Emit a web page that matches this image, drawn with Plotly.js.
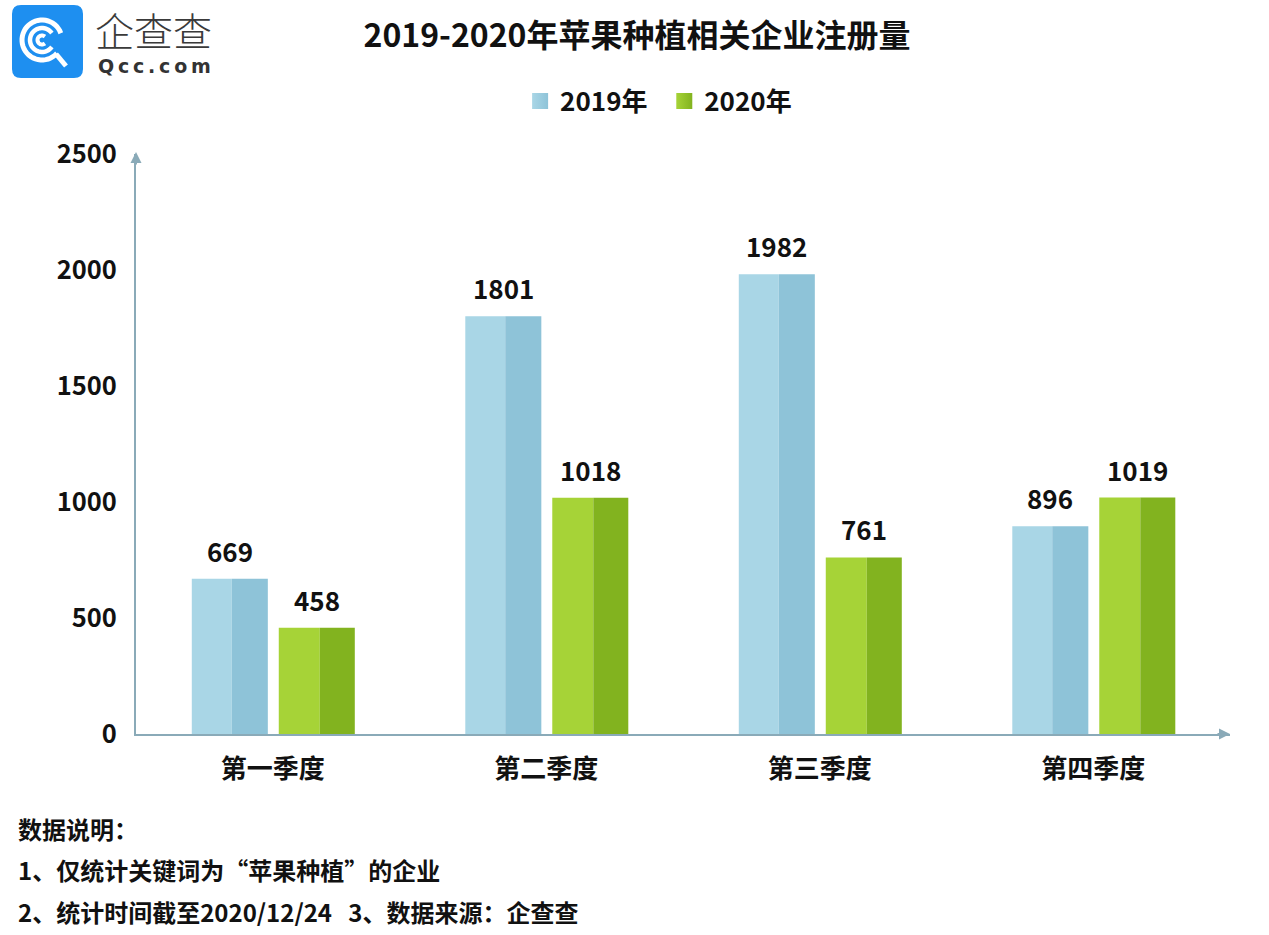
<!DOCTYPE html>
<html>
<head>
<meta charset="utf-8">
<script src="https://cdn.plot.ly/plotly-3.0.1.min.js"></script>
<style>html,body{margin:0;padding:0;background:#fff;}#chart{width:1269px;height:935px;}</style>
</head>
<body>
<div id="chart"></div>
<script>
// ---- data ----
const categories = ['第一季度', '第二季度', '第三季度', '第四季度'];
const values2019 = [669, 1801, 1982, 896];
const values2020 = [458, 1018, 761, 1019];
const seriesNames = ['2019年', '2020年'];
const yTicks = [0, 500, 1000, 1500, 2000, 2500];
const titleText = '2019-2020年苹果种植相关企业注册量';
const noteLines = ['数据说明：', '1、仅统计关键词为“苹果种植”的企业', '2、统计时间截至2020/12/24\u00a0\u00a0\u00a03、数据来源：企查查'];

// ---- style ----
const FONT = '"Noto Sans CJK SC", "Noto Sans", sans-serif';
const W = 1269, H = 935;
const M = {l: 136, r: 39, t: 154, b: 201};
const PW = W - M.l - M.r, PH = H - M.t - M.b;
const col = {l19: '#a9d6e6', d19: '#8ec3d8', l20: '#a6d337', d20: '#82b31f', axis: '#8aaab8'};

// half-bar geometry (category units)
const g19 = {a: -0.296, m: -0.150, b: -0.018};
const g20 = {a: 0.022, m: 0.172, b: 0.300};

function half(name, vals, x0, x1, color) {
  return {
    type: 'bar', x: categories, y: vals, name: name,
    offset: x0, width: x1 - x0,
    marker: {color: color, line: {width: 0}},
    showlegend: false, hoverinfo: 'x+y'
  };
}
function legendItem(name, light, dark) {
  return {
    type: 'scatter', mode: 'markers', x: [null], y: [null], name: name,
    marker: {symbol: 'square', size: 16, color: light, line: {width: 0},
      gradient: {type: 'horizontal', color: dark}},
    showlegend: true, hoverinfo: 'skip'
  };
}
const traces = [
  half(seriesNames[0], values2019, g19.a, g19.m, col.l19),
  half(seriesNames[0], values2019, g19.m, g19.b, col.d19),
  half(seriesNames[1], values2020, g20.a, g20.m, col.l20),
  half(seriesNames[1], values2020, g20.m, g20.b, col.d20),
  legendItem(seriesNames[0] + '\u00a0\u00a0', col.l19, col.d19),
  legendItem(seriesNames[1], col.l20, col.d20)
];

// value labels
const annotations = [];
categories.forEach((c, i) => {
  [[values2019, g19], [values2020, g20]].forEach(([vals, g]) => {
    annotations.push({
      x: i + (g.a + g.b) / 2, y: vals[i], xref: 'x', yref: 'y',
      text: String(vals[i]), showarrow: false, yanchor: 'bottom', yshift: 8,
      font: {family: FONT, size: 26, color: '#111', weight: 700}
    });
  });
});

// pixel -> paper helpers (for decorations outside plot)
const px = X => (X - M.l) / PW;
const py = Y => (H - M.b - Y) / PH;

// footer notes
const noteY = [828, 869, 911];
noteLines.forEach((t, i) => {
  annotations.push({
    x: px(16), y: py(noteY[i]), xref: 'paper', yref: 'paper', xanchor: 'left', yanchor: 'middle',
    text: t, showarrow: false, font: {family: FONT, size: 24, color: '#111', weight: 700}
  });
});

// logo texts
annotations.push({
  x: px(93), y: py(29), xref: 'paper', yref: 'paper', xanchor: 'left', yanchor: 'middle',
  text: '企查查', showarrow: false, font: {family: FONT, size: 39, color: '#3a3a3a', weight: 300}
});
annotations.push({
  x: px(96), y: py(66), xref: 'paper', yref: 'paper', xanchor: 'left', yanchor: 'middle',
  text: 'Q\u2009c\u2009c\u2009.\u2009c\u2009o\u2009m', showarrow: false,
  font: {family: '"DejaVu Sans", sans-serif', size: 19, color: '#333', weight: 700}
});

// axis arrows
annotations.push({
  x: -0.5, y: py(152), xref: 'x', yref: 'paper', ax: 0, ay: 14, axref: 'pixel', ayref: 'pixel',
  text: '', showarrow: true, arrowhead: 2, arrowsize: 1.1, arrowwidth: 2, arrowcolor: col.axis
});
annotations.push({
  x: px(1230), y: 0, xref: 'paper', yref: 'y', ax: -14, ay: 0,
  text: '', showarrow: true, arrowhead: 2, arrowsize: 1.1, arrowwidth: 2, arrowcolor: col.axis
});

// logo shapes in pixel mode anchored at figure top-left
const AX = px(0), AY = py(0);
function pshape(path, fill, line) {
  return {type: 'path', xref: 'paper', yref: 'paper', xsizemode: 'pixel', ysizemode: 'pixel',
    xanchor: AX, yanchor: AY, path: path, fillcolor: fill || 'rgba(0,0,0,0)', layer: 'above',
    line: line || {width: 0}};
}
function P(x, y) { return x.toFixed(2) + ',' + (-y).toFixed(2); }
function roundRect(x0, y0, x1, y1, r) {
  return 'M' + P(x0 + r, y0) + ' L' + P(x1 - r, y0) + ' Q' + P(x1, y0) + ' ' + P(x1, y0 + r) +
    ' L' + P(x1, y1 - r) + ' Q' + P(x1, y1) + ' ' + P(x1 - r, y1) + ' L' + P(x0 + r, y1) +
    ' Q' + P(x0, y1) + ' ' + P(x0, y1 - r) + ' L' + P(x0, y0 + r) + ' Q' + P(x0, y0) + ' ' + P(x0 + r, y0) + ' Z';
}
function arc(cx, cy, r, a0, a1) {
  let s = '';
  const n = 40;
  for (let k = 0; k <= n; k++) {
    const a = (a0 + (a1 - a0) * k / n) * Math.PI / 180;
    s += (k ? ' L' : 'M') + P(cx + r * Math.cos(a), cy - r * Math.sin(a));
  }
  return s;
}
const shapes = [
  pshape(roundRect(12, 5, 83, 78, 9), '#1e8ff0'),
  pshape(arc(42, 40, 20, 20, 318), null, {color: '#fff', width: 5}),
  pshape(arc(42, 40, 12, 35, 325), null, {color: '#fff', width: 4.5}),
  pshape(arc(42, 40, 4.5, 50, 310), null, {color: '#fff', width: 4}),
  pshape('M' + P(56, 54) + ' L' + P(66, 66), null, {color: '#fff', width: 5})
];

const layout = {
  width: W, height: H,
  margin: M,
  paper_bgcolor: '#fff', plot_bgcolor: '#fff',
  font: {family: FONT, color: '#111'},
  title: {
    text: titleText, xref: 'container', yref: 'container', x: 0.502, y: 1 - 36 / H,
    xanchor: 'center', yanchor: 'middle',
    font: {family: FONT, size: 32, color: '#111', weight: 700}
  },
  barmode: 'overlay',
  showlegend: true,
  legend: {
    orientation: 'h', xref: 'container', yref: 'container', x: 0.519, y: 1 - 101 / H,
    xanchor: 'center', yanchor: 'middle', itemsizing: 'trace',
    font: {family: FONT, size: 26, color: '#111', weight: 700}, itemwidth: 30, traceorder: 'normal'
  },
  xaxis: {
    type: 'category', range: [-0.5, 3.5], showgrid: false, zeroline: false,
    showline: true, linecolor: col.axis, linewidth: 2, ticks: '',
    tickfont: {family: FONT, size: 26, color: '#111', weight: 700}, ticklabelstandoff: 11,
    fixedrange: true
  },
  yaxis: {
    range: [0, 2500], tickvals: yTicks, ticktext: yTicks.map(String), showgrid: false, zeroline: false,
    showline: true, linecolor: col.axis, linewidth: 2, ticks: '',
    tickfont: {family: FONT, size: 25.5, color: '#111', weight: 700}, ticklabelstandoff: 12,
    fixedrange: true
  },
  annotations: annotations,
  shapes: shapes
};

Plotly.newPlot('chart', traces, layout, {displayModeBar: false, staticPlot: true});
</script>
</body>
</html>
